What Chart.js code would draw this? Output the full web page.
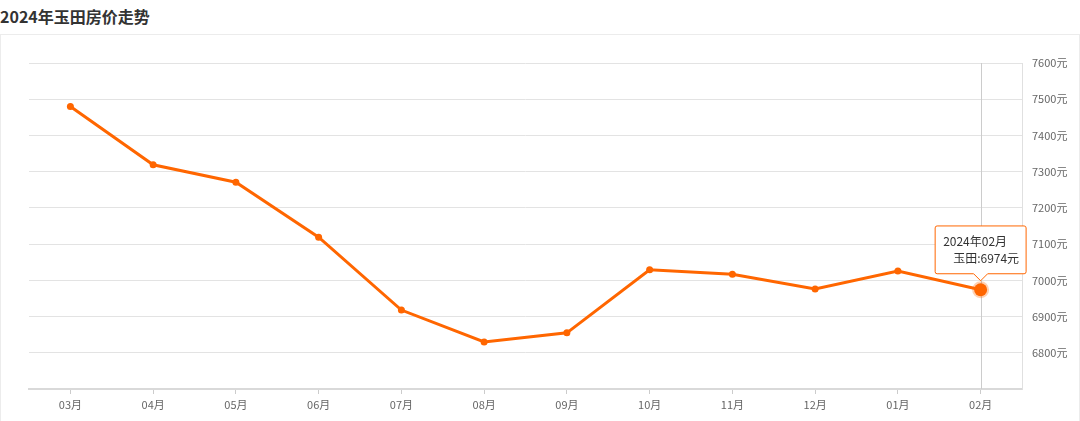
<!DOCTYPE html>
<html>
<head>
<meta charset="utf-8">
<script src="https://cdn.jsdelivr.net/npm/chart.js@4/dist/chart.umd.min.js"></script>
<style>
  html, body { margin: 0; padding: 0; background: #fff; }
  #wrap { position: relative; width: 1080px; height: 421px; overflow: hidden; }
  #title { position: absolute; left: 0; top: 4px; font: bold 16px "Noto Sans CJK SC", sans-serif; color: #333; white-space: nowrap; }
  #panel { position: absolute; left: 0; top: 34px; width: 1078px; height: 400px; border: 1px solid #ececec; }
  #box { position: absolute; left: 0; top: 0; width: 1080px; height: 421px; }
</style>
</head>
<body>
<div id="wrap">
  <div id="panel"></div>
  <div id="title">2024年玉田房价走势</div>
  <div id="box"><canvas id="c"></canvas></div>
</div>
<script>
const categories = ['03月','04月','05月','06月','07月','08月','09月','10月','11月','12月','01月','02月'];
const fullLabels = ['2023年03月','2023年04月','2023年05月','2023年06月','2023年07月','2023年08月','2023年09月','2023年10月','2023年11月','2023年12月','2024年01月','2024年02月'];
const prices = [7480, 7319, 7271, 7119, 6918, 6830, 6855, 7029, 7017, 6976, 7026, 6974];
const seriesName = '玉田';
const yMin = 6700, yMax = 7600, yStep = 100;
const activeIndex = 11;

const labelFont = { family: '"Noto Sans CJK SC", sans-serif', size: 11 };
const orange = '#ff6600';

const crosshair = {
  id: 'crosshair',
  beforeDatasetsDraw(chart) {
    const act = chart.getActiveElements();
    if (!act.length) return;
    const x = act[0].element.x;
    const { top, bottom } = chart.chartArea;
    const ctx = chart.ctx;
    ctx.save();
    ctx.strokeStyle = '#cccccc';
    ctx.lineWidth = 1;
    ctx.beginPath();
    ctx.moveTo(Math.round(x) + 0.5, top);
    ctx.lineTo(Math.round(x) + 0.5, bottom);
    ctx.stroke();
    ctx.restore();
  }
};

const chart = new Chart(document.getElementById('c'), {
  type: 'line',
  data: {
    labels: categories,
    datasets: [{
      label: seriesName,
      data: prices,
      borderColor: orange,
      backgroundColor: orange,
      borderWidth: 3,
      tension: 0,
      pointRadius: 3.5,
      pointBorderWidth: 0,
      pointBackgroundColor: orange,
      pointHoverRadius: 6.5,
      pointHoverBackgroundColor: orange,
      pointHoverBorderColor: 'rgba(255,102,0,0.3)',
      pointHoverBorderWidth: 4
    }]
  },
  options: {
    responsive: true,
    maintainAspectRatio: false,
    animation: false,
    events: [],
    layout: { padding: { left: 29, top: 63, right: 0, bottom: 0 } },
    plugins: {
      legend: { display: false },
      title: { display: false },
      tooltip: {
        enabled: true,
        backgroundColor: '#ffffff',
        borderColor: orange,
        borderWidth: 1,
        cornerRadius: 2,
        titleColor: '#333333',
        bodyColor: '#333333',
        titleFont: { family: '"Noto Sans CJK SC", sans-serif', size: 12, weight: 'normal' },
        bodyFont: { family: '"Noto Sans CJK SC", sans-serif', size: 12 },
        titleAlign: 'left',
        bodyAlign: 'right',
        titleMarginBottom: 3,
        padding: { top: 8, bottom: 8, left: 8, right: 7 },
        displayColors: false,
        yAlign: 'bottom',
        xAlign: 'center',
        caretSize: 7,
        caretPadding: 9,
        callbacks: {
          title: (items) => fullLabels[items[0].dataIndex] + '\u2002\u2002',
          label: (item) => seriesName + ':' + item.raw + '元'
        }
      }
    },
    scales: {
      x: {
        type: 'category',
        offset: true,
        grid: { drawOnChartArea: false, drawTicks: true, tickLength: 5, color: '#cccccc' },
        border: { display: true, color: '#d9d9d9', width: 2 },
        ticks: { color: '#666666', font: labelFont, padding: 4, maxRotation: 0, autoSkip: false },
        afterFit(scale) { scale.height = 32; }
      },
      y: {
        position: 'right',
        min: yMin,
        max: yMax,
        grid: { color: '#e3e3e3', drawTicks: false },
        border: { display: true, color: '#e0e0e0', width: 1 },
        ticks: {
          stepSize: yStep,
          color: '#666666',
          font: labelFont,
          padding: 10,
          callback: (v) => v === yMin ? '' : v + '元'
        },
        afterFit(scale) { scale.width = 58; }
      }
    }
  },
  plugins: [crosshair]
});

const act = [{ datasetIndex: 0, index: activeIndex }];
chart.setActiveElements(act);
chart.tooltip.setActiveElements(act, { x: 0, y: 0 });
chart.update('none');
</script>
</body>
</html>
